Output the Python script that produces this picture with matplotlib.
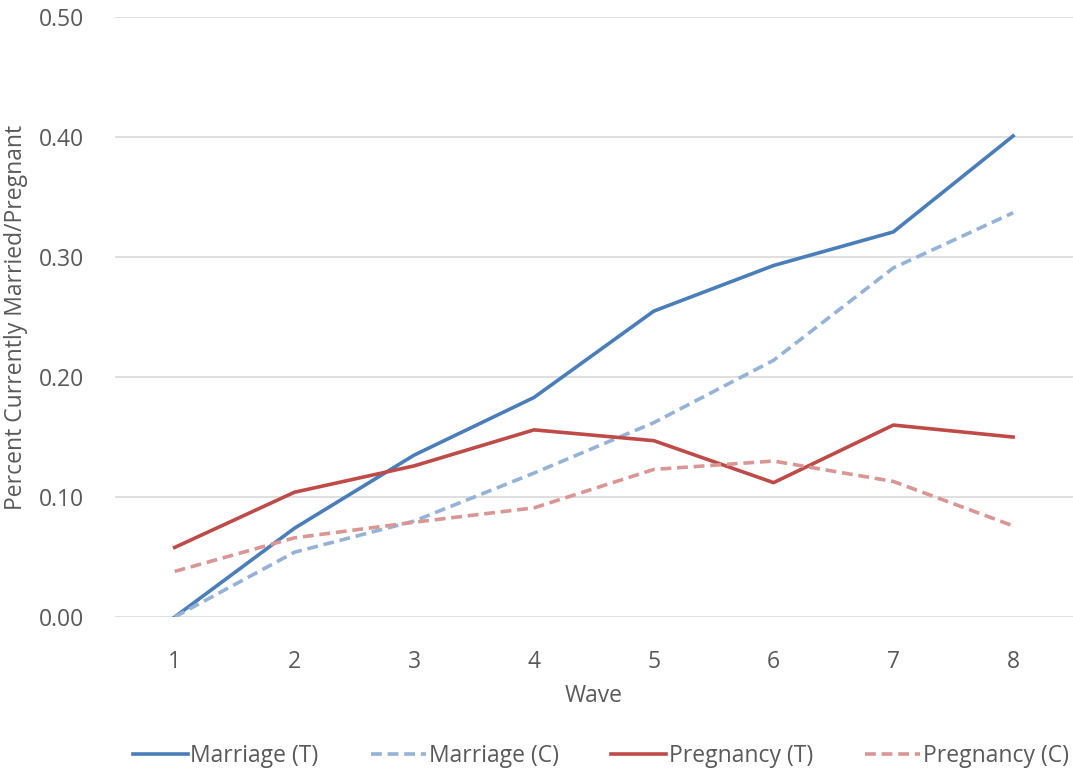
import matplotlib
matplotlib.use("Agg")
import matplotlib.pyplot as plt
from matplotlib.ticker import FormatStrFormatter

waves = [1, 2, 3, 4, 5, 6, 7, 8]
marriage_t = [0.000, 0.074, 0.135, 0.183, 0.255, 0.293, 0.321, 0.401]
marriage_c = [0.000, 0.054, 0.080, 0.120, 0.162, 0.214, 0.291, 0.337]
pregnancy_t = [0.058, 0.104, 0.126, 0.156, 0.147, 0.112, 0.160, 0.150]
pregnancy_c = [0.038, 0.066, 0.079, 0.091, 0.123, 0.130, 0.113, 0.076]

plt.rcParams['font.family'] = ['Open Sans', 'DejaVu Sans']
txt = '#595959'

fig = plt.figure(figsize=(10.73, 7.82), dpi=100)
ax = fig.add_axes([0.107, 0.211, 0.893, 0.767])

ax.plot(waves, marriage_t, color='#4A7EBB', lw=2.6, label='Marriage (T)')
ax.plot(waves, marriage_c, color='#95B3D7', lw=2.6, ls=(0, (3, 1.6)), label='Marriage (C)')
ax.plot(waves, pregnancy_t, color='#BE4B48', lw=2.6, label='Pregnancy (T)')
ax.plot(waves, pregnancy_c, color='#D99694', lw=2.6, ls=(0, (3, 1.6)), label='Pregnancy (C)')

ax.set_xlim(0.5, 8.5)
ax.set_ylim(0, 0.5)
ax.set_xticks(waves)
ax.set_yticks([0, 0.1, 0.2, 0.3, 0.4, 0.5])
ax.yaxis.set_major_formatter(FormatStrFormatter('%.2f'))
ax.grid(axis='y', color='#D9D9D9', lw=1.2)
ax.set_axisbelow(True)
for s in ax.spines.values():
    s.set_visible(False)
ax.tick_params(length=0, labelsize=16.5, colors=txt)
ax.tick_params(axis='x', pad=24)
ax.tick_params(axis='y', pad=22)

ax.set_xlabel('Wave', fontsize=16.5, color=txt, labelpad=7)
ax.set_ylabel('Percent Currently Married/Pregnant', fontsize=16.5, color=txt, labelpad=8)

fig.legend(loc='lower center', bbox_to_anchor=(0.56, -0.008), ncol=4, frameon=False,
           fontsize=16.5, labelcolor=txt, handlelength=2.4, handletextpad=0.1,
           columnspacing=2.3)

fig.savefig('out.png', dpi=100)
